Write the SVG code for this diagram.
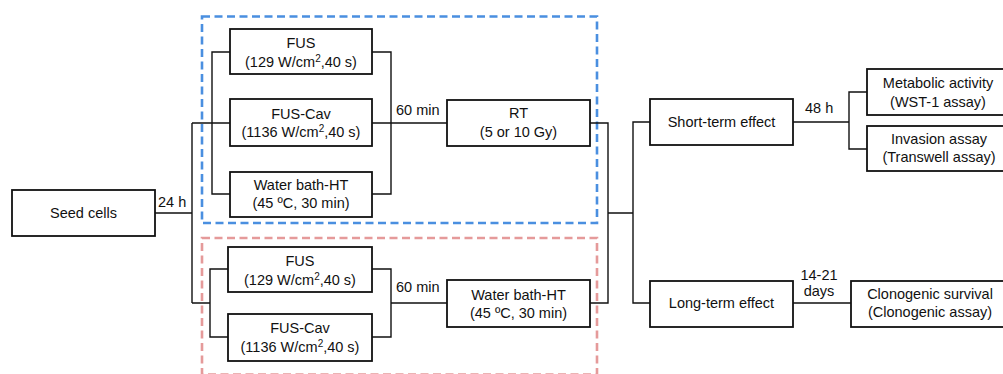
<svg xmlns="http://www.w3.org/2000/svg" width="1003" height="374" viewBox="0 0 1003 374">
<style>
.box{fill:#fff;stroke:#111;stroke-width:1.8}
.ln{fill:none;stroke:#111;stroke-width:1.4}
text{font-family:"Liberation Sans",Arial,sans-serif;font-size:14.5px;fill:#111;text-anchor:middle}
.lbl{text-anchor:start}
.blue{fill:none;stroke:#4a8fe0;stroke-width:2.6;stroke-dasharray:8 4.5}
.red{fill:none;stroke:#e59a9a;stroke-width:2.6;stroke-dasharray:8 4.5}
</style>
<rect width="1003" height="374" fill="#fff"/>
<g id="groups">
<rect class="blue" x="202" y="16.5" width="395" height="206.5"/>
<rect class="red" x="202" y="238" width="395" height="136.5"/>
</g>
<g id="connectors">
<path class="ln" d="M155 213H192M192 123V303M192 123H230M192 303H210"/>
<path class="ln" d="M230 52H212V194H230M372 52H391V194H372M372 123H447"/>
<path class="ln" d="M228 269H210V337H228M372 269H391V337H372M391 303H447"/>
<path class="ln" d="M590 123H608V303H590M608 213H633M650 122H633V303H650"/>
<path class="ln" d="M793 122H849M867 92H849V149H867M793 303H851"/>
</g>
<g id="labels">
<text class="lbl" x="158" y="207">24 h</text>
<text class="lbl" x="396" y="115">60 min</text>
<text class="lbl" x="396" y="292">60 min</text>
<text class="lbl" x="805" y="113">48 h</text>
<text x="819" y="280">14-21</text>
<text x="819" y="296">days</text>
</g>
<g id="seed"><rect class="box" x="12" y="190" width="143" height="46"/><text x="83.5" y="218">Seed cells</text></g>
<g id="fus1"><rect class="box" x="230" y="29" width="142" height="45"/><text x="301" y="48">FUS</text><text x="301" y="67">(129 W/cm<tspan font-size="10" dy="-5">2</tspan><tspan dy="5">,40 s)</tspan></text></g>
<g id="fuscav1"><rect class="box" x="230" y="99" width="142" height="47"/><text x="301" y="119">FUS-Cav</text><text x="301" y="137">(1136 W/cm<tspan font-size="10" dy="-5">2</tspan><tspan dy="5">,40 s)</tspan></text></g>
<g id="wb1"><rect class="box" x="230" y="172" width="142" height="45"/><text x="301" y="190">Water bath-HT</text><text x="301" y="208">(45 ºC, 30 min)</text></g>
<g id="rt"><rect class="box" x="447" y="100" width="143" height="46"/><text x="518.5" y="118">RT</text><text x="518.5" y="137">(5 or 10 Gy)</text></g>
<g id="fus2"><rect class="box" x="228" y="247" width="144" height="45"/><text x="300" y="266">FUS</text><text x="300" y="285">(129 W/cm<tspan font-size="10" dy="-5">2</tspan><tspan dy="5">,40 s)</tspan></text></g>
<g id="fuscav2"><rect class="box" x="228" y="314" width="144" height="47"/><text x="300" y="333">FUS-Cav</text><text x="300" y="352">(1136 W/cm<tspan font-size="10" dy="-5">2</tspan><tspan dy="5">,40 s)</tspan></text></g>
<g id="wb2"><rect class="box" x="447" y="280" width="143" height="47"/><text x="518.5" y="300">Water bath-HT</text><text x="518.5" y="318">(45 ºC, 30 min)</text></g>
<g id="short"><rect class="box" x="650" y="99" width="143" height="46"/><text x="721.5" y="127">Short-term effect</text></g>
<g id="long"><rect class="box" x="650" y="281" width="143" height="46"/><text x="721.5" y="308">Long-term effect</text></g>
<g id="metab"><rect class="box" x="867" y="69" width="142" height="46"/><text x="938" y="88">Metabolic activity</text><text x="938" y="107">(WST-1 assay)</text></g>
<g id="invasion"><rect class="box" x="867" y="126" width="142" height="45"/><text x="939" y="144">Invasion assay</text><text x="939" y="162">(Transwell assay)</text></g>
<g id="clono"><rect class="box" x="851" y="281" width="158" height="46"/><text x="930" y="299">Clonogenic survival</text><text x="930" y="317">(Clonogenic assay)</text></g>
</svg>
